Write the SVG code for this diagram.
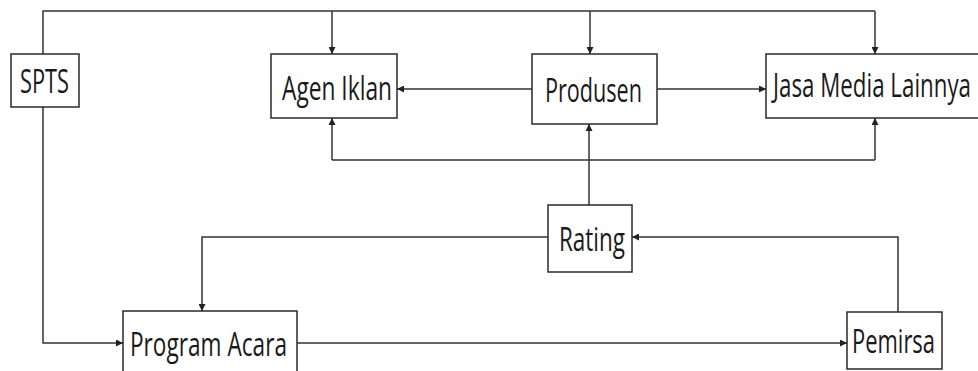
<svg xmlns="http://www.w3.org/2000/svg" width="978" height="371" viewBox="0 0 978 371">
<defs>
<marker id="ah" markerWidth="7" markerHeight="7" refX="7" refY="3.5" orient="auto" markerUnits="userSpaceOnUse">
<path d="M0,0 L7,3.5 L0,7 z" fill="#222"/>
</marker>
<style>
.box{fill:none;stroke:#2a2a2a;stroke-width:1.5}
.lbl{font-family:"Open Sans","DejaVu Sans",sans-serif;font-size:32px;fill:#1a1a1a}
.ln{fill:none;stroke:#333;stroke-width:1.5}
.ar{fill:none;stroke:#333;stroke-width:1.5;marker-end:url(#ah)}
</style>
</defs>
<rect width="978" height="371" fill="#fff"/>
<g id="connectors">
<path class="ln" d="M43,54 V11 H875"/>
<path class="ar" d="M332,11 V54"/>
<path class="ar" d="M590,11 V54"/>
<path class="ar" d="M875,11 V54"/>
<path class="ar" d="M532,89 H397"/>
<path class="ar" d="M657,89 H766"/>
<path class="ln" d="M332,160 H875"/>
<path class="ar" d="M332,160 V118"/>
<path class="ar" d="M875,160 V118"/>
<path class="ar" d="M589,205 V124"/>
<path class="ar" d="M548,237 H202 V311"/>
<path class="ar" d="M898,312 V237 H632"/>
<path class="ar" d="M43,107 V343 H123"/>
<path class="ar" d="M297,343 H847"/>
</g>
<g id="spts">
<rect class="box" x="11" y="54" width="68" height="53"/>
<text class="lbl" x="20" y="93" textLength="49" lengthAdjust="spacingAndGlyphs">SPTS</text>
</g>
<g id="agen-iklan">
<rect class="box" x="271" y="54" width="126" height="64"/>
<text class="lbl" x="282" y="100" textLength="110" lengthAdjust="spacingAndGlyphs">Agen Iklan</text>
</g>
<g id="produsen">
<rect class="box" x="532" y="54" width="125" height="70"/>
<text class="lbl" x="545" y="102" textLength="97" lengthAdjust="spacingAndGlyphs">Produsen</text>
</g>
<g id="jasa-media">
<rect class="box" x="766" y="54" width="220" height="64"/>
<text class="lbl" transform="translate(773,97) scale(1,1.45)" x="0" y="0" style="font-size:22px" textLength="198" lengthAdjust="spacingAndGlyphs">Jasa Media Lainnya</text>
</g>
<g id="rating">
<rect class="box" x="548" y="205" width="84" height="67"/>
<text class="lbl" x="559" y="251" textLength="66" lengthAdjust="spacingAndGlyphs">Rating</text>
</g>
<g id="program-acara">
<rect class="box" x="123" y="311" width="174" height="64"/>
<text class="lbl" x="130" y="356" textLength="157" lengthAdjust="spacingAndGlyphs">Program Acara</text>
</g>
<g id="pemirsa">
<rect class="box" x="847" y="312" width="95" height="57"/>
<text class="lbl" x="852" y="353" textLength="83" lengthAdjust="spacingAndGlyphs">Pemirsa</text>
</g>
</svg>
